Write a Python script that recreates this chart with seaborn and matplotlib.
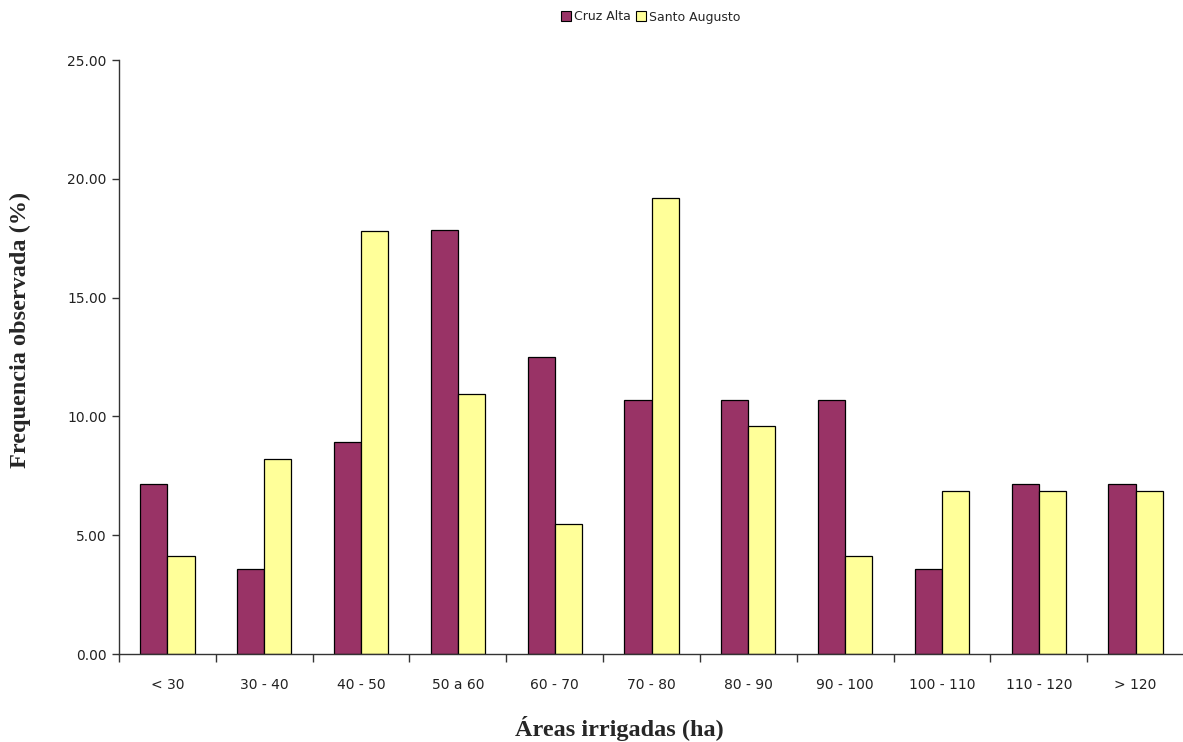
import matplotlib
matplotlib.use("Agg")
import matplotlib.pyplot as plt
import seaborn as sns
import pandas as pd
import numpy as np
from matplotlib.patches import Patch

categories = ["< 30", "30 - 40", "40 - 50", "50 a 60", "60 - 70", "70 - 80",
              "80 - 90", "90 - 100", "100 - 110", "110 - 120", "> 120"]
cruz_alta = [7.14, 3.57, 8.93, 17.86, 12.50, 10.71, 10.71, 10.71, 3.57, 7.14, 7.14]
santo_augusto = [4.11, 8.22, 17.81, 10.96, 5.48, 19.18, 9.59, 4.11, 6.85, 6.85, 6.85]
series_names = ["Cruz Alta", "Santo Augusto"]
colors = ["#993366", "#FFFF99"]

df = pd.DataFrame({
    "Área": categories * 2,
    "Frequência": cruz_alta + santo_augusto,
    "Local": [series_names[0]] * len(categories) + [series_names[1]] * len(categories),
})

sns.set_theme(style="white")
plt.rcParams["font.family"] = ["DejaVu Sans"]

fig = plt.figure(figsize=(11.83, 7.42), dpi=100)
ax = fig.add_axes([119 / 1183, 88 / 742, 1065 / 1183, 594 / 742])

sns.barplot(data=df, x="Área", y="Frequência", hue="Local", order=categories,
            hue_order=series_names, palette=colors, width=0.56, gap=0,
            edgecolor="black", linewidth=0.9, saturation=1, ax=ax, legend=False)

ax.set_xlim(-0.5, len(categories) - 0.5)
ax.set_ylim(0, 25)
ax.set_yticks(np.arange(0, 25.01, 5))
ax.set_yticklabels([f"{v:.2f}" for v in np.arange(0, 25.01, 5)], fontsize=10, color="#222222")

# category labels at centres, tick marks at category boundaries
ax.set_xticks(range(len(categories)))
ax.set_xticklabels(categories, fontsize=10, color="#222222")
ax.tick_params(axis="x", which="major", length=0, pad=17)
ax.set_xticks(np.arange(-0.5, len(categories), 1), minor=True)
ax.tick_params(axis="x", which="minor", length=6, width=1, color="#333333", direction="out", bottom=True)
ax.tick_params(axis="y", which="major", length=5, width=1, color="#333333", direction="out", left=True, pad=4)

for side in ["top", "right"]:
    ax.spines[side].set_visible(False)
for side in ["left", "bottom"]:
    ax.spines[side].set_color("#333333")
    ax.spines[side].set_linewidth(1)

ax.set_xlabel("Áreas irrigadas (ha)", fontsize=17.5, fontweight="bold",
              family=["Liberation Serif"])
ax.set_ylabel("Frequencia observada (%)", fontsize=17.5, fontweight="bold",
              family=["Liberation Serif"])
ax.xaxis.set_label_coords(0.47, -0.104)
ax.yaxis.set_label_coords(-0.0826, 0.545)

handles = [Patch(facecolor=c, edgecolor="black", linewidth=0.8, label=n)
           for c, n in zip(colors, series_names)]
fig.legend(handles=handles, loc="center", bbox_to_anchor=(651 / 1183, 1 - 17 / 742),
           ncol=2, frameon=False, fontsize=9, handlelength=0.8, handleheight=0.8,
           handletextpad=0.25, columnspacing=0.4, borderpad=0)

fig.savefig("out.png", dpi=100)
